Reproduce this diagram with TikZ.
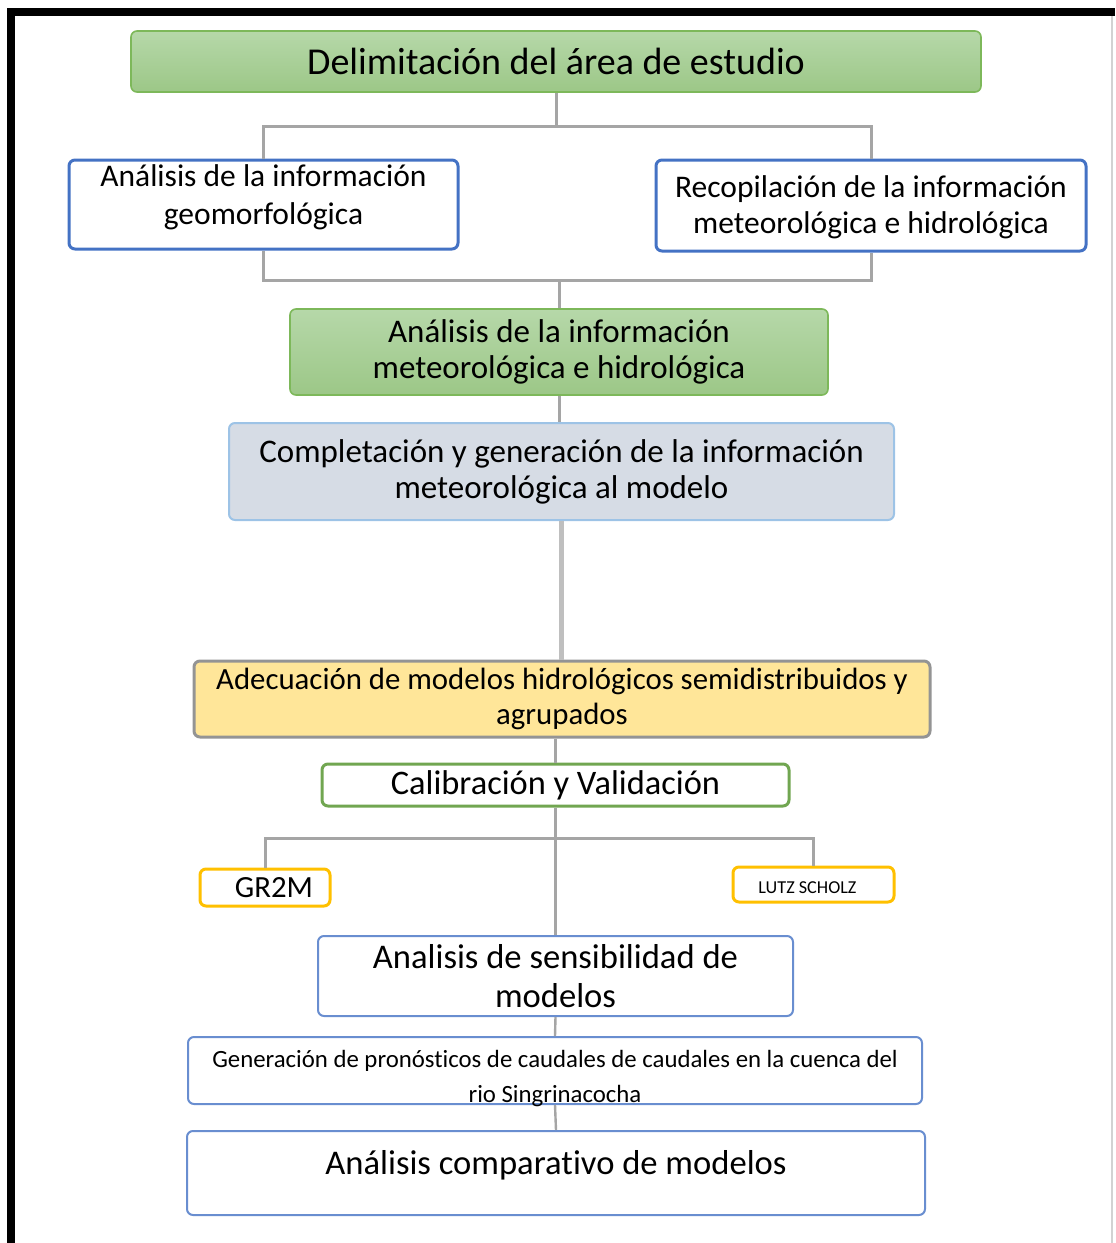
\documentclass[tikz,border=0pt]{standalone}
\usepackage{fontspec}
\setmainfont{Carlito}[Ligatures=CommonOff]
\usetikzlibrary{positioning}
\definecolor{verdeSup}{HTML}{B6D8A9}
\definecolor{verdeInf}{HTML}{9CC787}
\definecolor{verdeBorde}{HTML}{7DB85A}
\definecolor{azul}{HTML}{4472C4}
\definecolor{azulClaro}{HTML}{9DC3E6}
\definecolor{grisAzul}{HTML}{D6DCE5}
\definecolor{amarillo}{HTML}{FFE699}
\definecolor{naranja}{HTML}{FFC000}
\definecolor{gris}{HTML}{A5A5A5}
\definecolor{grisClaro}{HTML}{BFBFBF}
\def\fs#1#2{\fontsize{#1}{#2}\selectfont}

\begin{document}
\begin{tikzpicture}[x=0.5pt,y=-0.5pt,
    caja/.style={rounded corners=3pt, align=center, inner sep=0pt},
    verde/.style={caja, draw=verdeBorde, line width=0.8pt, top color=verdeSup, bottom color=verdeInf},
    blanca/.style={caja, draw=azul, line width=1.5pt, fill=white},
    fina/.style={caja, draw=azul!80, line width=1pt, fill=white},
    modelo/.style={caja, draw=naranja, line width=1.5pt, fill=white},
    conector/.style={draw=gris, line width=1.5pt}]
    \useasboundingbox (0,0) rectangle (1115,1243);
    % marco
    \draw[line width=4pt] (11,1243) -- (11,12) -- (1115,12);
    \draw[grisClaro!70, line width=0.8pt] (1112,16) -- (1112,1243);
    % cajas
    \node[verde, minimum width=425pt, minimum height=30.5pt, font=\fs{19}{23}] (delim) at (556,61.5) {Delimitación del área de estudio};
    \node[blanca, minimum width=194.5pt, minimum height=44.5pt, font=\fs{15.75}{19}, text height=19.5pt, text depth=0pt] (geo) at (263.5,204.5) {Análisis de la información\\geomorfológica};
    \node[blanca, minimum width=215pt, minimum height=45.5pt, font=\fs{15.75}{18}, text height=27.5pt, text depth=0pt] (recop) at (871,205.5) {Recopilación de la información\\meteorológica e hidrológica};
    \node[verde, minimum width=269pt, minimum height=43pt, font=\fs{16.5}{18}] (anmet) at (559,352) {Análisis de la información\\meteorológica e hidrológica};
    \node[caja, draw=azulClaro, line width=1pt, fill=grisAzul, minimum width=332.5pt, minimum height=48.5pt, font=\fs{16.5}{18}] (complet) at (561.5,471.5) {Completación y generación de la información\\meteorológica al modelo};
    \node[caja, draw=gris!90!black, line width=1.5pt, fill=amarillo, minimum width=368pt, minimum height=38pt, font=\fs{15.4}{17.5}] (adec) at (562,699) {Adecuación de modelos hidrológicos semidistribuidos y\\agrupados};
    \node[caja, draw=verdeBorde!90!black, line width=1.5pt, fill=white, minimum width=233.5pt, minimum height=21pt, font=\fs{17.2}{20}] (calib) at (555.5,785) {Calibración y Validación};
    \node[modelo, minimum width=65pt, minimum height=18.5pt, font=\fs{15.4}{18}] (gr2m) at (265,887.5) {\hspace{9pt}GR2M};
    \node[modelo, minimum width=80.5pt, minimum height=17.5pt, font=\fs{9.1}{11}, text height=9pt, text depth=0pt] (lutz) at (813.5,884.5) {LUTZ SCHOLZ\hspace{6pt}};
    \node[fina, minimum width=237.5pt, minimum height=40pt, font=\fs{17.3}{19.5}] (sens) at (555.5,976) {Analisis de sensibilidad de\\modelos};
    \node[fina, minimum width=367pt, minimum height=33.5pt, font=\fs{12.4}{17.5}, text height=32.3pt, text depth=0pt] (gen) at (555,1070.5) {Generación de pronósticos de caudales de caudales en la cuenca del\\rio Singrinacocha};
    \node[fina, minimum width=369pt, minimum height=42pt, font=\fs{17.3}{20}, text height=1.1pt, text depth=0pt] (comp) at (556,1173) {Análisis comparativo de modelos};
    % conectores
    \coordinate (j1) at (556,126);
    \coordinate (j2) at (559,280);
    \coordinate (j3) at (556,838);
    \draw[conector] (delim.south) -- (j1);
    \draw[conector] (geo.north) |- (j1) -| (recop.north);
    \draw[conector] (geo.south) |- (j2) -| (recop.south);
    \draw[conector] (j2) -- (anmet.north);
    \draw[conector] (anmet.south) -- (anmet.south |- complet.north);
    \draw[grisClaro, line width=2.5pt] (complet.south) -- (complet.south |- adec.north);
    \draw[conector, line width=1.2pt] (calib.north |- adec.south) -- (calib.north);
    \draw[conector] (calib.south) -- (sens.north);
    \draw[conector] (gr2m.north) |- (j3) -| (lutz.north);
    \draw[conector, line width=1.2pt] (sens.south) -- (gen.north);
    \draw[conector, line width=1.2pt] (gen.south) -- (comp.north);
\end{tikzpicture}
\end{document}
